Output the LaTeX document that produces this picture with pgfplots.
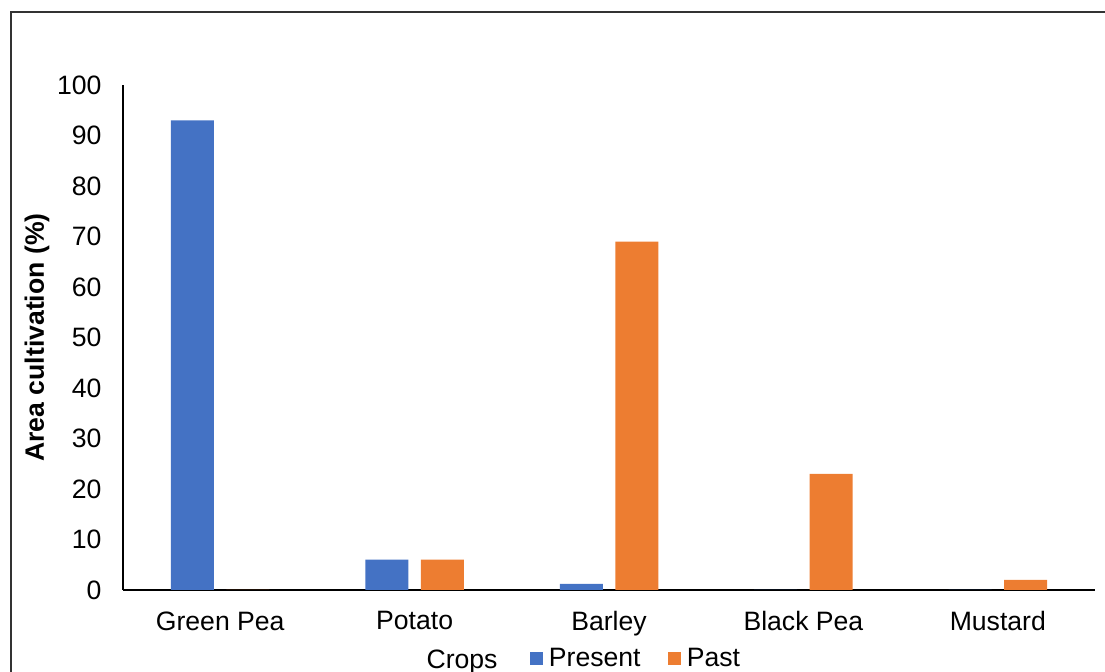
\documentclass[border=0pt]{standalone}
\usepackage{pgfplots}
\pgfplotsset{compat=1.18}
\usepackage{fontspec}
\setmainfont{Liberation Sans}

\definecolor{presentblue}{HTML}{4472C4}
\definecolor{pastorange}{HTML}{ED7D31}

\pgfplotsset{
  sqlegend/.style={legend image code/.code={\fill[##1,draw=none] (0pt,-3.25pt) rectangle (6.5pt,3.25pt);}},
}

\begin{document}
\begin{tikzpicture}
% page area and the frame around the chart
\path[use as bounding box] (-61.5pt,-41pt) rectangle (491pt,295pt);
\draw[black!80, line width=1pt] (-56pt,-41pt) -- (-56pt,289pt) -- (491pt,289pt);

\begin{axis}[
  at={(0pt,0pt)}, anchor=south west,
  scale only axis, width=486pt, height=252.5pt,
  ybar=6.25pt, bar width=21.5pt,
  xmin=-0.5, xmax=4.5, ymin=0, ymax=100,
  xtick={0,1,2,3,4},
  xticklabels={Green Pea, Potato, Barley, Black Pea, Mustard},
  ytick={0,10,...,100},
  axis x line*=bottom, axis y line*=left,
  axis line style={-, black, line width=0.9pt},
  major tick length=0pt,
  /pgf/number format/assume math mode=true,
  tick label style={font=\fontsize{13.3}{15}\selectfont},
  yticklabel style={xshift=-7.2pt},
  xticklabel style={yshift=-7.2pt},
  ylabel={\textbf{Area cultivation (\%)}},
  ylabel style={font=\fontsize{13.3}{15}\selectfont, at={(axis description cs:-0.0885,0.5)}, anchor=center},
  xlabel={Crops},
  xlabel style={font=\fontsize{13.3}{15}\selectfont, at={(axis description cs:0.3488,-0.1545)}, anchor=base},
  legend columns=-1,
  legend style={draw=none, fill=none, inner sep=0pt, font=\fontsize{13.3}{15}\selectfont,
    at={(axis description cs:0.4187,-0.1366)}, anchor=west,
    /tikz/every even column/.append style={column sep=11pt},
    nodes={inner sep=2.8pt}},
]
\addplot[fill=presentblue, draw=none, sqlegend] coordinates {(0,93) (1,6) (2,1.2) (3,0) (4,0)};
\addplot[fill=pastorange, draw=none, sqlegend] coordinates {(0,0) (1,6) (2,69) (3,23) (4,2)};
\legend{Present, Past}
\end{axis}
\end{tikzpicture}
\end{document}
